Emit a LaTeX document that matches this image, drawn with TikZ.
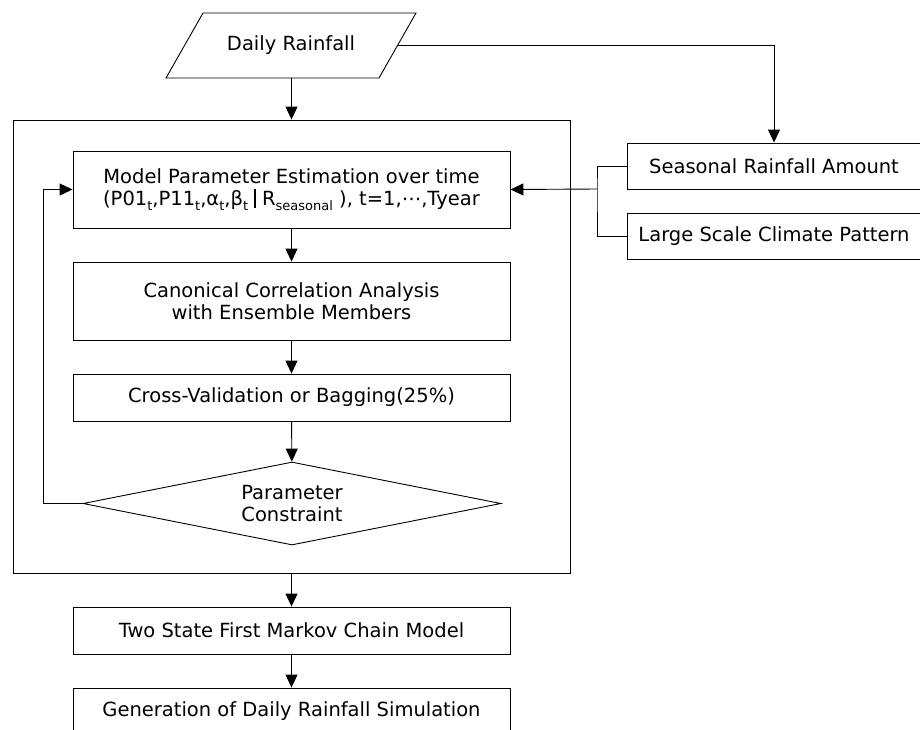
\documentclass[tikz,border=0pt]{standalone}
\usepackage{fontspec}
\setmainfont{DejaVu Sans}
\usetikzlibrary{arrows.meta,shapes.geometric}
\newcommand{\sbs}[1]{\raisebox{-0.45ex}{\fontsize{13}{13}\selectfont #1}}
\newcommand{\gbar}{\rule[-3pt]{1.6pt}{19pt}}
\begin{document}
\begin{tikzpicture}[x=1pt,y=-1pt,
    box/.style={draw,line width=0.9pt,minimum width=437pt,minimum height=47pt,inner sep=0pt,align=center},
    side/.style={draw,line width=0.9pt,minimum width=294pt,minimum height=46pt,inner sep=0pt},
    arr/.style={line width=0.9pt,-{Triangle[length=13pt,width=12pt]}},
    line/.style={line width=0.9pt},
    font=\fontsize{19.5}{22}\selectfont]
  \useasboundingbox (0,0) rectangle (920,729);

  % input
  \draw[line] (166,78) -- (203,13) -- (416,13) -- (379,78) -- cycle;
  \node (rain) at (291,45.5){Daily Rainfall};
  \coordinate (rainr) at (397.5,45.5);
  \coordinate (rainb) at (291.5,78);

  \node[draw,line width=0.9pt,minimum width=557pt,minimum height=453pt,inner sep=0pt] (frame) at (291.5,346.5){};
    \node[box,minimum height=77pt] (model) at (291.5,189.5)
      {Model Parameter Estimation over time\\(P01\sbs{t},P11\sbs{t},α\sbs{t},β\sbs{t}\ \gbar\ R\sbs{seasonal}\ ), t=1,⋯,Tyear};
    \node[box,minimum height=78pt] (cca) at (291.5,301){Canonical Correlation Analysis\\with Ensemble Members};
    \node[box] (cv) at (291.5,397.5){Cross-Validation or Bagging(25\%)};
    \node[draw,diamond,shape aspect=5,minimum width=418pt,minimum height=83pt,inner sep=0pt,
      line width=0.9pt,align=center] (check) at (292,503.5){Parameter\\Constraint};

  \node[box] (twostate) at (291.5,630.5){Two State First Markov Chain Model};
  \node[box] (gen) at (291.5,711.5){Generation of Daily Rainfall Simulation};

  % predictors
  \node[side] (season) at (774,166){Seasonal Rainfall Amount};
  \node[side] (climate) at (774,236){Large Scale Climate Pattern};
  \coordinate (jn) at (597,189);

  \draw[arr] (rainb) -- (frame);
  \draw[arr] (rainr) -| (season.north);
  \draw[line] (season.west) -| (jn) |- (climate.west);
  \draw[arr] (jn) -- (model.east);
  \draw[arr] (model) -- (cca);
  \draw[arr] (cca) -- (cv);
  \draw[arr] (cv) -- (check);
  \draw[arr] (check.west) -- ++(-39,0) |- (model.west);
  \draw[arr] (frame) -- (twostate);
  \draw[arr] (twostate) -- (gen);
\end{tikzpicture}
\end{document}
